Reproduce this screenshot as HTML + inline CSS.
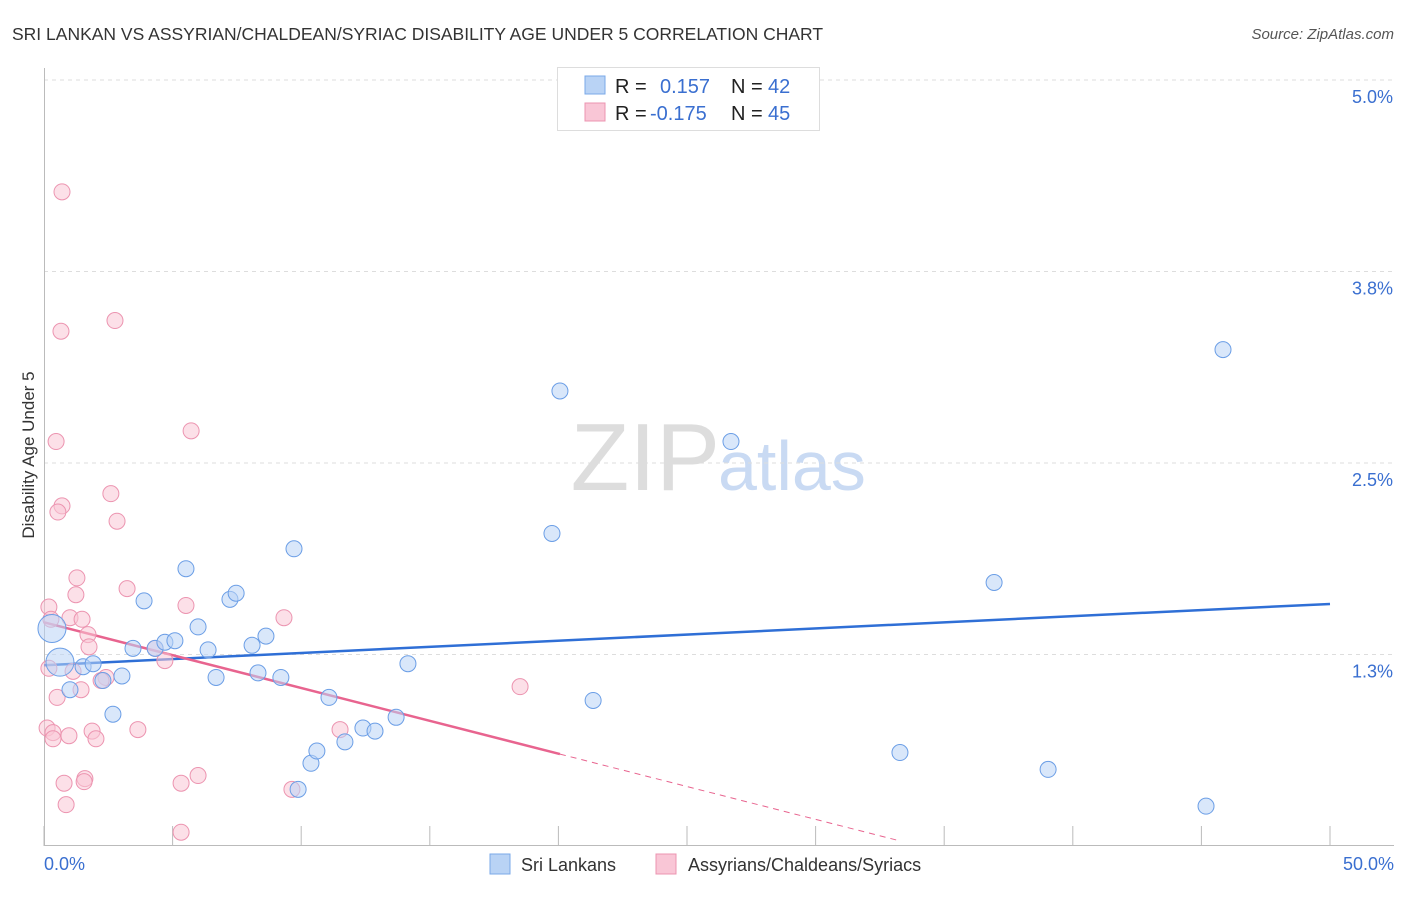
<!DOCTYPE html>
<html><head><meta charset="utf-8"><style>
body{margin:0;background:#fff;font-family:"Liberation Sans",sans-serif;}
svg text{font-family:"Liberation Sans",sans-serif;}
</style></head><body>
<svg id="chart" width="1406" height="892">
<text x="12" y="40" font-size="17.5" fill="#333">SRI LANKAN VS ASSYRIAN/CHALDEAN/SYRIAC DISABILITY AGE UNDER 5 CORRELATION CHART</text>
<text x="1394" y="39" font-size="15" fill="#555" font-style="italic" text-anchor="end">Source: ZipAtlas.com</text>
<text x="720" y="490" font-size="96" fill="#ddd" text-anchor="end" font-family="Liberation Serif">ZIP</text>
<text x="718" y="490" font-size="70" fill="#c9daf3">atlas</text>
<g id="grid"></g>
<g id="axes"></g>
<g id="lines"></g>
<g id="points"></g>
<text transform="translate(34,455) rotate(-90)" font-size="17" fill="#333" text-anchor="middle">Disability Age Under 5</text>
<g>
<rect x="557.5" y="67.5" width="262" height="63" fill="#fff" stroke="#ddd"/>
<rect x="585" y="76" width="20" height="18" fill="#b9d3f5" stroke="#7aa8e8"/>
<rect x="585" y="103" width="20" height="18" fill="#f9c6d6" stroke="#ec94b0"/>
<text x="615" y="93" font-size="20" fill="#222">R =</text>
<text x="660" y="93" font-size="20" fill="#3a6fd0">0.157</text>
<text x="731" y="93" font-size="20" fill="#222">N =</text>
<text x="768" y="93" font-size="20" fill="#3a6fd0">42</text>
<text x="615" y="120" font-size="20" fill="#222">R =</text>
<text x="650" y="120" font-size="20" fill="#3a6fd0">-0.175</text>
<text x="731" y="120" font-size="20" fill="#222">N =</text>
<text x="768" y="120" font-size="20" fill="#3a6fd0">45</text>
</g>
<g>
<rect x="490" y="854" width="20" height="20" fill="#b9d3f5" stroke="#7aa8e8"/>
<text x="521" y="871" font-size="18" fill="#333">Sri Lankans</text>
<rect x="656" y="854" width="20" height="20" fill="#f9c6d6" stroke="#ec94b0"/>
<text x="688" y="871" font-size="18" fill="#333">Assyrians/Chaldeans/Syriacs</text>
</g>
</svg>
<script>
const blueX=[0.31,0.62,1.01,1.52,1.91,2.29,2.68,3.03,3.46,3.89,4.32,4.70,5.09,5.52,5.99,6.38,6.69,7.23,7.47,8.09,8.32,8.63,9.21,9.72,9.88,10.38,10.61,11.08,11.70,12.40,12.87,13.69,14.15,19.75,20.06,21.35,26.71,33.28,36.94,39.04,45.18,45.84];
const blueY=[1.42,1.20,1.02,1.17,1.19,1.08,0.86,1.11,1.29,1.60,1.29,1.33,1.34,1.81,1.43,1.28,1.10,1.61,1.65,1.31,1.13,1.37,1.10,1.94,0.37,0.54,0.62,0.97,0.68,0.77,0.75,0.84,1.19,2.04,2.97,0.95,2.64,0.61,1.72,0.50,0.26,3.24];
const pinkX=[0.70,0.66,2.76,0.47,5.72,2.60,0.70,0.54,2.84,1.28,3.23,1.24,0.19,5.52,9.33,1.01,1.48,0.27,1.71,1.75,4.32,4.70,0.19,1.13,2.41,2.22,1.44,18.51,0.51,0.12,0.35,1.87,3.65,11.51,0.35,0.97,2.02,1.59,1.56,0.78,5.33,5.99,9.64,0.86,5.33];
const pinkY=[4.27,3.36,3.43,2.64,2.71,2.30,2.22,2.18,2.12,1.75,1.68,1.64,1.56,1.57,1.49,1.49,1.48,1.48,1.38,1.30,1.29,1.21,1.16,1.14,1.10,1.08,1.02,1.04,0.97,0.77,0.74,0.75,0.76,0.76,0.70,0.72,0.70,0.44,0.42,0.41,0.41,0.46,0.37,0.27,0.09];
const blueTrend=[1.18,1.58];      // value at x=0, x=50
const pinkTrend=[1.46,0.60,20.06,33.3]; // value at 0, value at solid end, solid end x, dashed end x
const yTicks=[1.3,2.5,3.8,5.0];
const yTickLabels=["1.3%","2.5%","3.8%","5.0%"];
const xTicks=[0,5,10,15,20,25,30,35,40,45,50];
const NS="http://www.w3.org/2000/svg";
const X=v=>44+v/50*1286;
const Y=v=>846-v/5*766;
function mk(tag,attrs,parent){const e=document.createElementNS(NS,tag);for(const k in attrs)e.setAttribute(k,attrs[k]);parent.appendChild(e);return e;}
const grid=document.getElementById('grid'),axes=document.getElementById('axes'),lines=document.getElementById('lines'),pts=document.getElementById('points');
yTicks.forEach((t,i)=>{
 const gy=846-(i+1)*191.5;
 const l=mk('line',{x1:44,x2:1394,y1:gy,y2:gy,stroke:'#ddd','stroke-dasharray':'4,4'},grid);
 
 
 const tx=mk('text',{x:1393,y:gy+23,'font-size':18,fill:'#3a6fd0','text-anchor':'end'},axes);
 tx.textContent=yTickLabels[i];
 
 
});
const ax=mk('line',{x1:44,x2:1394,y1:845.5,y2:845.5,stroke:'#bbb'},axes);


const ay=mk('line',{x1:44.5,x2:44.5,y1:68,y2:846,stroke:'#bbb'},axes);


xTicks.forEach(t=>{
 const tk=mk('line',{x1:X(t),x2:X(t),y1:826,y2:846,stroke:'#bbb'},axes);
 
 
});
const xl0=mk('text',{x:44,y:870,'font-size':18,fill:'#3a6fd0'},axes);xl0.textContent='0.0%';


const xl1=mk('text',{x:1394,y:870,'font-size':18,fill:'#3a6fd0','text-anchor':'end'},axes);xl1.textContent='50.0%';


function drawPts(xs,ys,fill,stroke,name){
 xs.forEach((x,i)=>{
  const r=(name==='blue-point'&&i<2)?14:8;
  const c=mk('circle',{cx:X(x),cy:Y(ys[i]),r:r,fill:fill,'fill-opacity':0.55,stroke:stroke,'stroke-width':1},pts);
  
  
 });
}
drawPts(pinkX,pinkY,'#f9c6d6','#ec94b0','pink-point');
drawPts(blueX,blueY,'#b9d3f5','#6b9ee6','blue-point');
const bl=mk('line',{x1:X(0),y1:Y(blueTrend[0]),x2:X(50),y2:Y(blueTrend[1]),stroke:'#2f6fd6','stroke-width':2.5},lines);


const slope=(pinkTrend[1]-pinkTrend[0])/pinkTrend[2];
const pl=mk('line',{x1:X(0),y1:Y(pinkTrend[0]),x2:X(pinkTrend[2]),y2:Y(pinkTrend[1]),stroke:'#e8648f','stroke-width':2.5},lines);


const pd=mk('line',{x1:X(pinkTrend[2]),y1:Y(pinkTrend[1]),x2:X(pinkTrend[3]),y2:Y(pinkTrend[0]+slope*pinkTrend[3]),stroke:'#e8648f','stroke-width':1,'stroke-dasharray':'6,5'},lines);


</script>
</body></html>
